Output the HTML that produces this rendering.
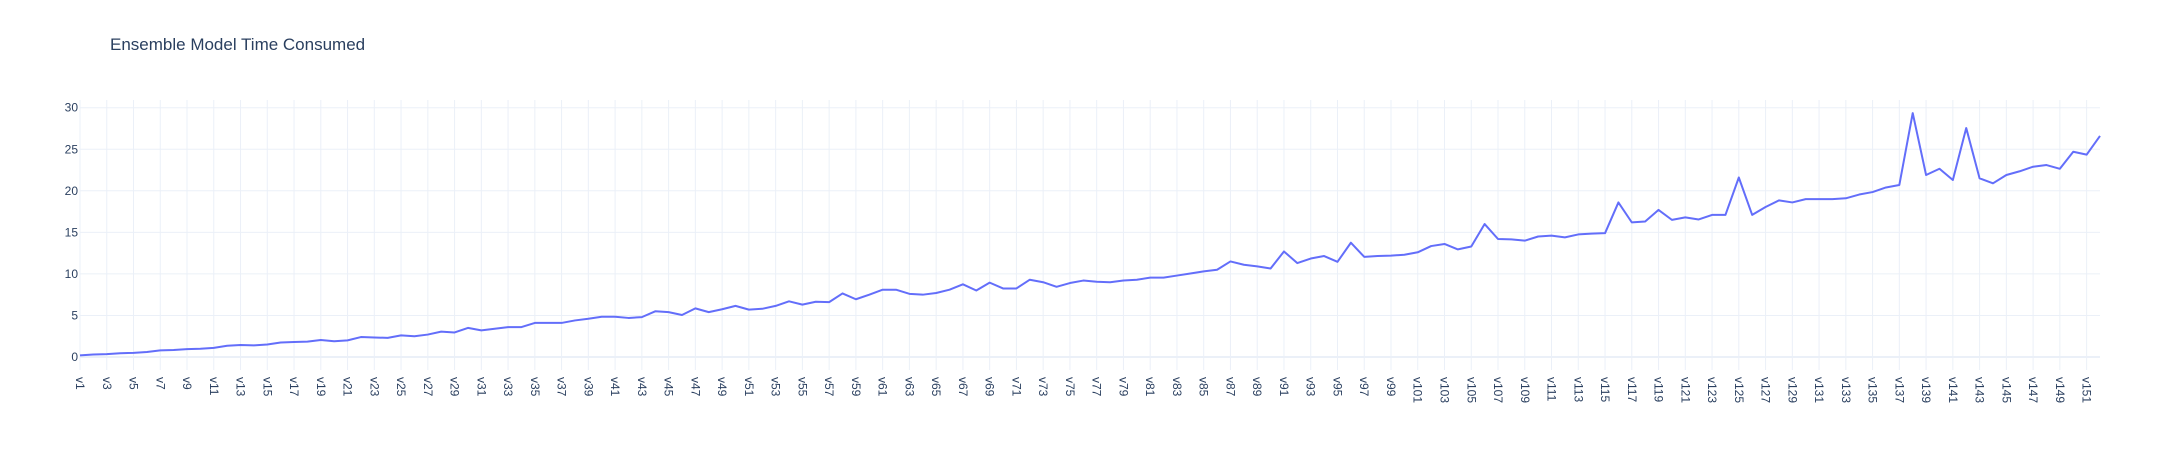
<!DOCTYPE html>
<html><head><meta charset="utf-8"><style>
html,body{margin:0;padding:0;background:#fff;}
svg{display:block;font-family:"Liberation Sans",Arial,sans-serif;}
</style></head><body>
<svg id="chart" width="2180" height="450" viewBox="0 0 2180 450">
<text x="110" y="50" font-size="17" fill="#2a3f5f">Ensemble Model Time Consumed</text>
<g id="grid"></g>
<g id="yticks"></g>
<g id="xticks"></g>
<path id="line" fill="none" stroke="#636efa" stroke-width="2" stroke-linejoin="round"></path>
</svg>
<script>
const values = [0.2,0.3,0.35,0.45,0.5,0.6,0.8,0.85,0.95,1.0,1.1,1.35,1.45,1.4,1.5,1.75,1.8,1.85,2.05,1.9,
2.0,2.4,2.35,2.3,2.6,2.5,2.7,3.05,2.95,3.5,3.2,3.4,3.6,3.6,4.1,4.1,4.1,4.4,4.6,4.85,
4.85,4.7,4.8,5.5,5.4,5.05,5.85,5.4,5.75,6.15,5.7,5.8,6.15,6.7,6.3,6.65,6.6,7.65,6.95,7.5,
8.1,8.1,7.6,7.5,7.7,8.1,8.75,8.0,8.95,8.25,8.25,9.3,9.0,8.45,8.9,9.2,9.05,9.0,9.2,9.3,
9.55,9.55,9.8,10.05,10.3,10.5,11.5,11.1,10.9,10.65,12.7,11.3,11.85,12.15,11.45,13.75,12.05,12.15,12.2,12.3,
12.6,13.35,13.6,12.95,13.3,16.0,14.2,14.15,14.0,14.5,14.6,14.4,14.75,14.85,14.9,18.6,16.2,16.3,17.7,16.5,
16.8,16.55,17.1,17.1,21.6,17.1,18.05,18.85,18.6,19.0,19.0,19.0,19.1,19.55,19.85,20.4,20.7,29.35,21.9,22.65,
21.3,27.55,21.5,20.9,21.9,22.35,22.9,23.1,22.65,24.7,24.35,26.6];
const categories = values.map((_, i) => 'v' + (i + 1));
const yTickValues = [0,5,10,15,20,25,30];

const NS = 'http://www.w3.org/2000/svg';
const plotLeft = 80, plotRight = 2100, plotTop = 100, plotBottom = 370;
const y0px = 357, pxPerUnit = 8.31;
function xScale(i){ return plotLeft + (plotRight - plotLeft) * i / (categories.length - 1); }
function yScale(v){ return y0px - v * pxPerUnit; }

const gridG = document.getElementById('grid');
const ytG = document.getElementById('yticks');
const xtG = document.getElementById('xticks');

categories.forEach((c, i) => {
  if (i % 2 !== 0) return;
  const x = xScale(i);
  const l = document.createElementNS(NS, 'line');
  
  
  l.setAttribute('x1', x); l.setAttribute('x2', x);
  l.setAttribute('y1', plotTop); l.setAttribute('y2', plotBottom);
  l.setAttribute('stroke', '#ebf0f8'); l.setAttribute('stroke-width', '1');
  gridG.appendChild(l);
  const t = document.createElementNS(NS, 'text');
  
  
  t.setAttribute('transform', `translate(${x - 4},377) rotate(90)`);
  t.setAttribute('font-size', '12');
  t.setAttribute('fill', '#2a3f5f');
  t.textContent = c;
  xtG.appendChild(t);
});

yTickValues.forEach(v => {
  const y = yScale(v);
  const l = document.createElementNS(NS, 'line');
  
  
  l.setAttribute('x1', plotLeft); l.setAttribute('x2', plotRight);
  l.setAttribute('y1', y); l.setAttribute('y2', y);
  l.setAttribute('stroke', '#ebf0f8'); l.setAttribute('stroke-width', v === 0 ? '2' : '1');
  gridG.appendChild(l);
  const t = document.createElementNS(NS, 'text');
  
  
  t.setAttribute('x', plotLeft - 2); t.setAttribute('y', y + 4);
  t.setAttribute('text-anchor', 'end');
  t.setAttribute('font-size', '12');
  t.setAttribute('fill', '#2a3f5f');
  t.textContent = v;
  ytG.appendChild(t);
});

document.getElementById('line').setAttribute('d',
  values.map((v, i) => (i ? 'L' : 'M') + xScale(i).toFixed(2) + ',' + yScale(v).toFixed(2)).join(' '));
</script>
</body></html>
